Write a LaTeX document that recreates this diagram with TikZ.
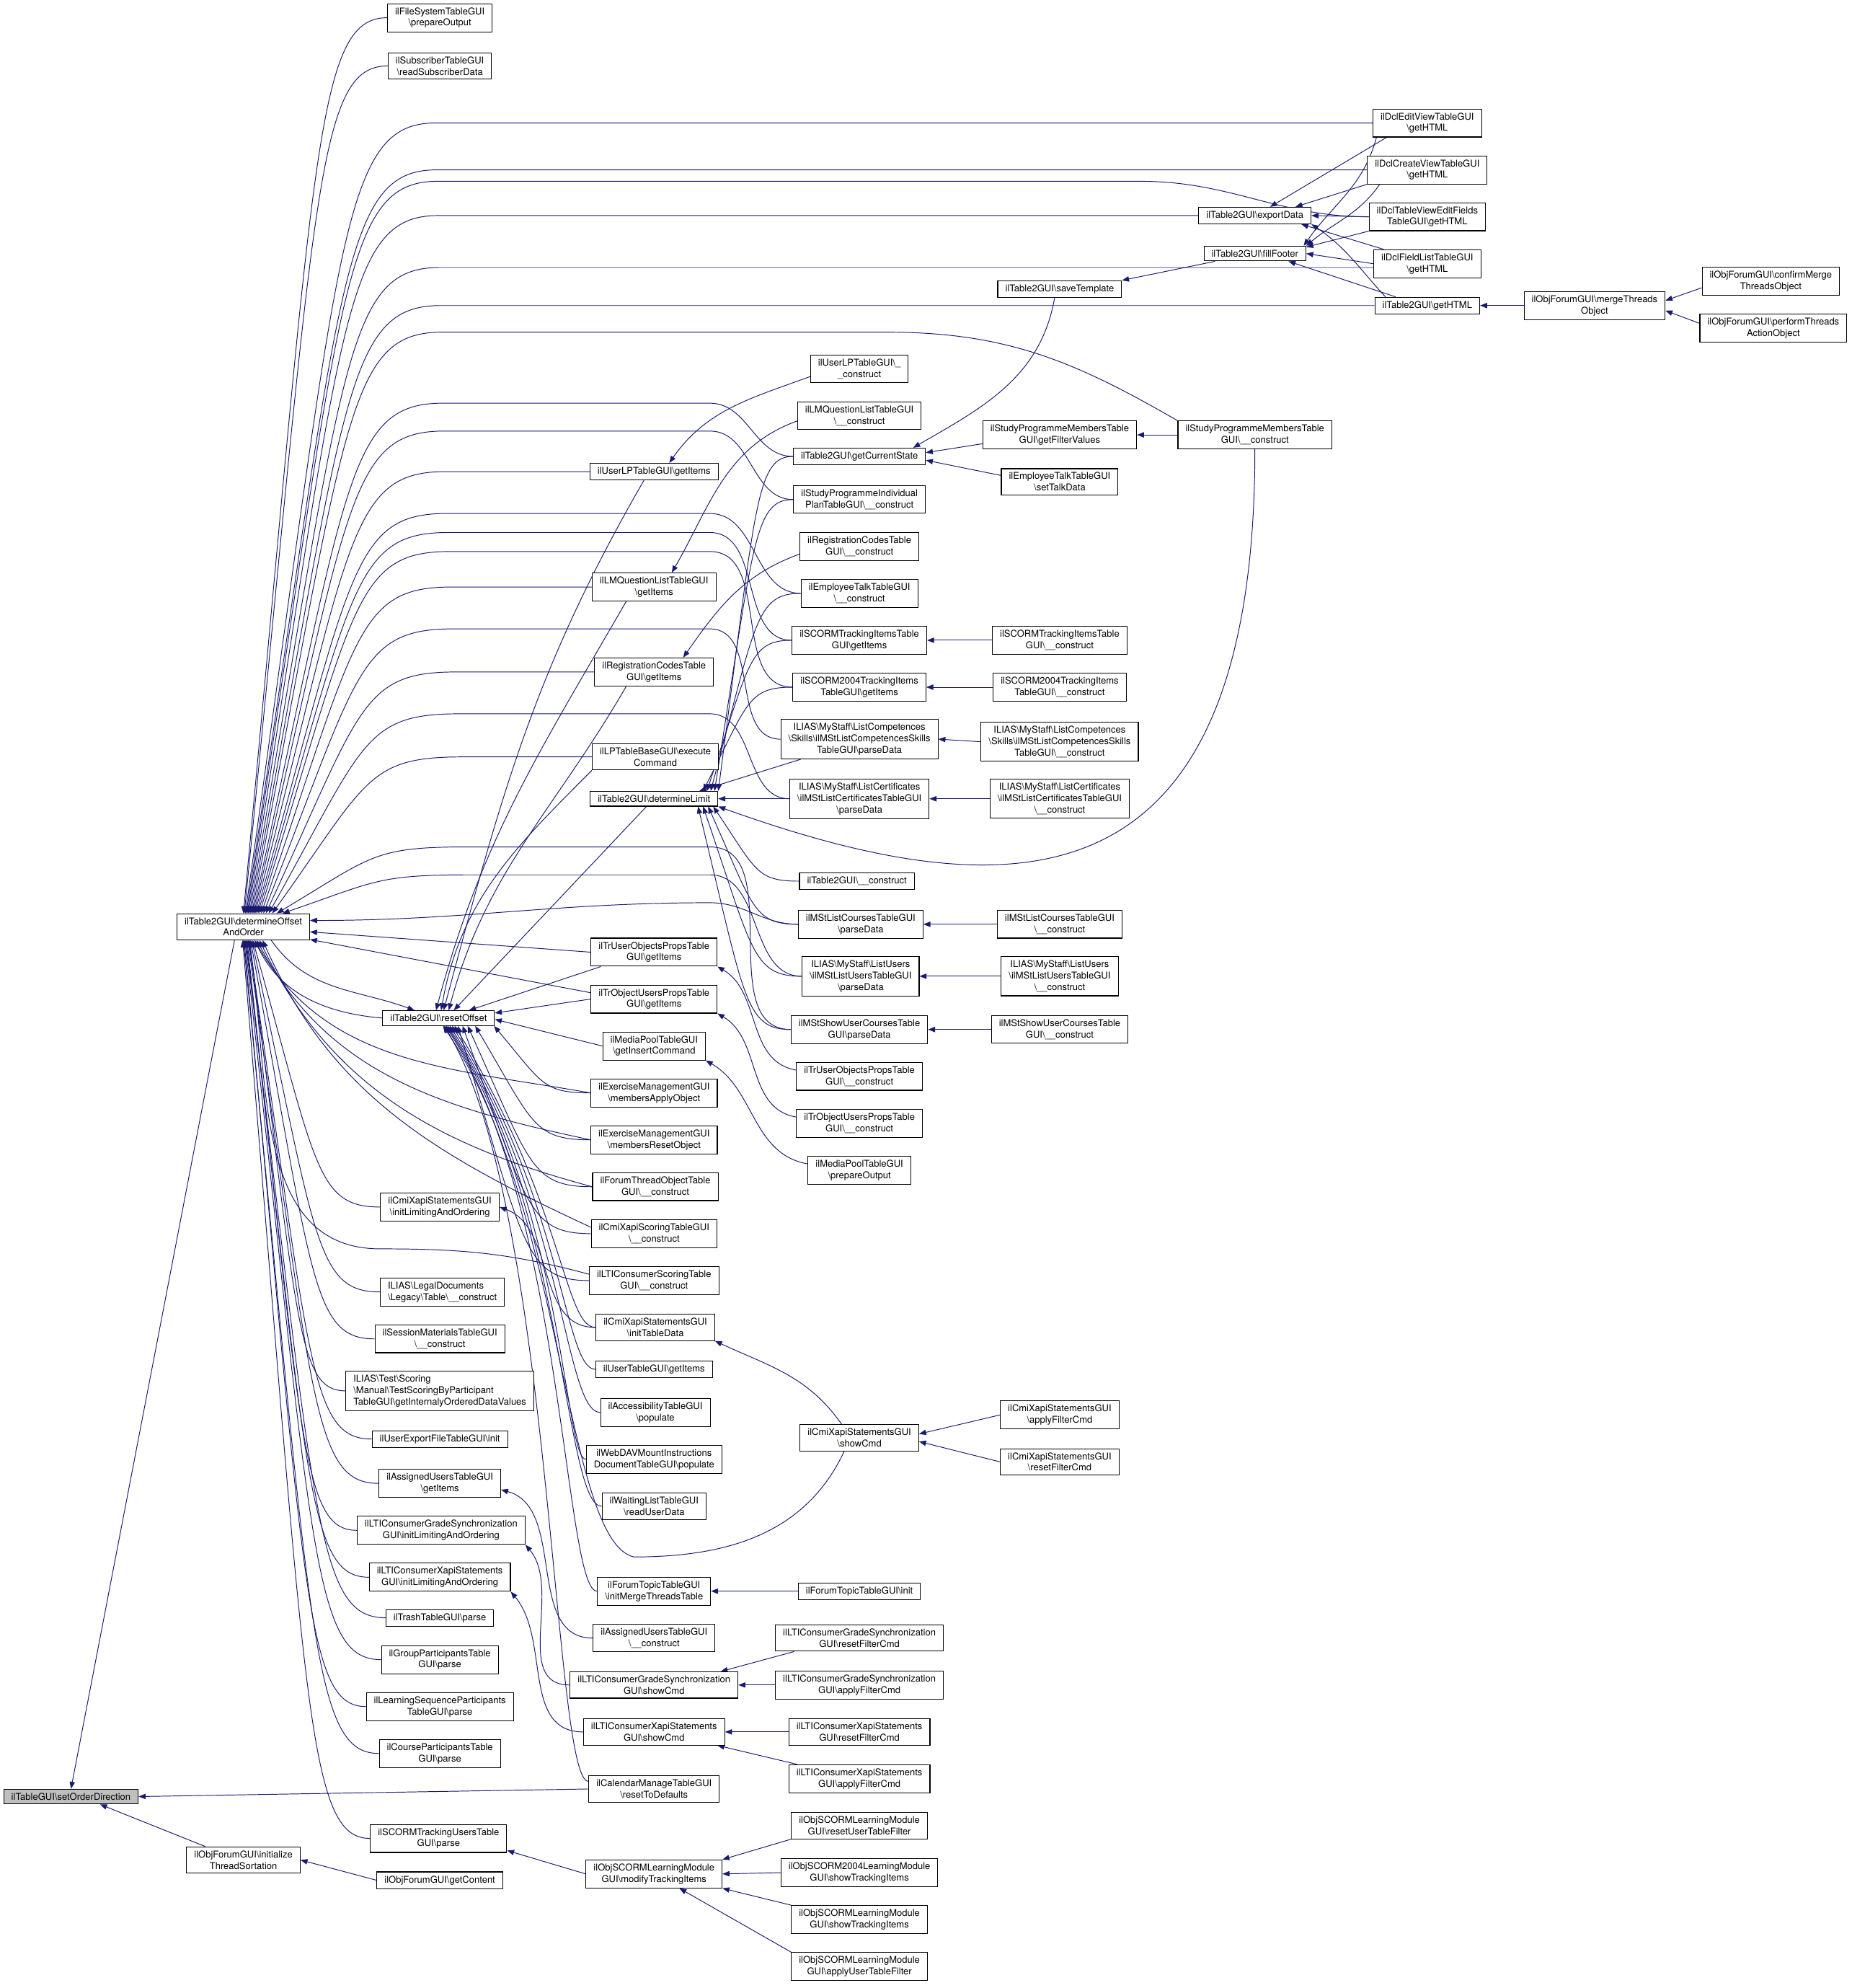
\documentclass[tikz,border=0pt]{standalone}
\usepackage{fontspec}
\setmainfont{TeX Gyre Heros}
\usetikzlibrary{arrows.meta, calc, backgrounds}
\definecolor{callBlue}{HTML}{191970}
\definecolor{rootGray}{HTML}{BFBFBF}
\newcommand{\bs}{\textbackslash}
\newcommand{\fnfont}{\fontsize{7.4}{9}\selectfont}

\begin{document}
\begin{tikzpicture}[x=1pt, y=1pt,
    fn/.style={rectangle, draw=black, line width=0.6pt, fill=white,
               align=center, inner xsep=6pt, inner ysep=3pt, font=\fnfont},
    fnl/.style={fn, align=left},
    root/.style={fn, fill=rootGray},
    call/.style={draw=callBlue, line width=0.55pt,
                 {Triangle[length=5.5pt, width=4.2pt]}-},
    fan/.style={to path={let \p1=(\tikztostart), \p2=(\tikztotarget),
                \n1={min(abs(\x2-\x1),150pt)} in
                .. controls ({\x1+0.5*\n1}, {\y1+0.85*(\y2-(\y1))})
                and ({\x1+0.5*\n1}, \y2) .. ({\x1+\n1}, \y2)
                -- (\tikztotarget)}},
    drop/.style={to path={let \p1=(\tikztostart), \p2=(\tikztotarget) in
                .. controls (#1, {\y1-140pt}) and (#1, \y2) .. (\tikztotarget)}},
    drop/.default=445pt,
  ]
    \useasboundingbox (0,0) rectangle (1461,-1568);

    % root and first callers
    \node[root] (sod) at (56,-1417) {ilTableGUI\bs setOrderDirection};
    \node[fn] (det) at (192,-731) {ilTable2GUI\bs determineOffset\\AndOrder};
    \node[fn] (its) at (192,-1467) {ilObjForumGUI\bs initialize\\ThreadSortation};

    % column 2
    \node[fn] (fso) at (347,-14) {ilFileSystemTableGUI\\\bs prepareOutput};
    \node[fn] (srd) at (347,-52) {ilSubscriberTableGUI\\\bs readSubscriberData};
    \node[fn] (ro) at (346,-803) {ilTable2GUI\bs resetOffset};
    \node[fn] (cxi) at (347,-952) {ilCmiXapiStatementsGUI\\\bs initLimitingAndOrdering};
    \node[fnl] (ldt) at (349,-1019) {ILIAS\bs LegalDocuments\\\bs Legacy\bs Table\bs\_\_construct};
    \node[fn] (smt) at (347,-1056) {ilSessionMaterialsTableGUI\\\bs\_\_construct};
    \node[fnl] (tsp) at (347,-1097) {ILIAS\bs Test\bs Scoring\\\bs Manual\bs TestScoringByParticipant\\TableGUI\bs getInternalyOrderedDataValues};
    \node[fn] (uef) at (347,-1135) {ilUserExportFileTableGUI\bs init};
    \node[fn] (aug) at (347,-1170) {ilAssignedUsersTableGUI\\\bs getItems};
    \node[fn] (lgi) at (348,-1207) {ilLTIConsumerGradeSynchronization\\GUI\bs initLimitingAndOrdering};
    \node[fn] (lxi) at (347,-1244) {ilLTIConsumerXapiStatements\\GUI\bs initLimitingAndOrdering};
    \node[fn] (trp) at (347,-1276) {ilTrashTableGUI\bs parse};
    \node[fn] (gpt) at (347,-1309) {ilGroupParticipantsTable\\GUI\bs parse};
    \node[fn] (lsp) at (347,-1346) {ilLearningSequenceParticipants\\TableGUI\bs parse};
    \node[fn] (cpt) at (347,-1383) {ilCourseParticipantsTable\\GUI\bs parse};
    \node[fn] (stu) at (346,-1450) {ilSCORMTrackingUsersTable\\GUI\bs parse};
    \node[fn] (gc) at (347,-1483) {ilObjForumGUI\bs getContent};

    % column 3
    \node[fn] (uli) at (516,-372) {ilUserLPTableGUI\bs getItems};
    \node[fn] (lqi) at (516,-463) {ilLMQuestionListTableGUI\\\bs getItems};
    \node[fn] (rci) at (516,-530) {ilRegistrationCodesTable\\GUI\bs getItems};
    \node[fn] (lec) at (517,-597) {ilLPTableBaseGUI\bs execute\\Command};
    \node[fn] (dl) at (516,-630) {ilTable2GUI\bs determineLimit};
    \node[fn] (tug) at (516,-751) {ilTrUserObjectsPropsTable\\GUI\bs getItems};
    \node[fn] (oug) at (516,-788) {ilTrObjectUsersPropsTable\\GUI\bs getItems};
    \node[fn] (mpi) at (516,-825) {ilMediaPoolTableGUI\\\bs getInsertCommand};
    \node[fn] (ema) at (516,-862) {ilExerciseManagementGUI\\\bs membersApplyObject};
    \node[fn] (emr) at (516,-899) {ilExerciseManagementGUI\\\bs membersResetObject};
    \node[fn] (fto) at (517,-936) {ilForumThreadObjectTable\\GUI\bs\_\_construct};
    \node[fn] (csg) at (516,-973) {ilCmiXapiScoringTableGUI\\\bs\_\_construct};
    \node[fn] (lcs) at (516,-1010) {ilLTIConsumerScoringTable\\GUI\bs\_\_construct};
    \node[fn] (ctd) at (517,-1047) {ilCmiXapiStatementsGUI\\\bs initTableData};
    \node[fn] (utg) at (516,-1080) {ilUserTableGUI\bs getItems};
    \node[fn] (acc) at (517,-1114) {ilAccessibilityTableGUI\\\bs populate};
    \node[fn] (wdv) at (516,-1151) {ilWebDAVMountInstructions\\DocumentTableGUI\bs populate};
    \node[fn] (wlr) at (516,-1188) {ilWaitingListTableGUI\\\bs readUserData};
    \node[fn] (ftm) at (516,-1255) {ilForumTopicTableGUI\\\bs initMergeThreadsTable};
    \node[fn] (auc) at (516,-1292) {ilAssignedUsersTableGUI\\\bs\_\_construct};
    \node[fn] (lgs) at (516,-1329) {ilLTIConsumerGradeSynchronization\\GUI\bs showCmd};
    \node[fn] (lxs) at (516,-1366) {ilLTIConsumerXapiStatements\\GUI\bs showCmd};
    \node[fn] (cal) at (516,-1411) {ilCalendarManageTableGUI\\\bs resetToDefaults};
    \node[fn] (mti) at (516,-1478) {ilObjSCORMLearningModule\\GUI\bs modifyTrackingItems};

    % column 4
    \node[fn] (ulc) at (678,-291) {ilUserLPTableGUI\bs\_\\\_construct};
    \node[fn] (lqc) at (678,-328) {ilLMQuestionListTableGUI\\\bs\_\_construct};
    \node[fn] (gcs) at (678,-360) {ilTable2GUI\bs getCurrentState};
    \node[fn] (spi) at (678,-394) {ilStudyProgrammeIndividual\\PlanTableGUI\bs\_\_construct};
    \node[fn] (rcc) at (678,-431) {ilRegistrationCodesTable\\GUI\bs\_\_construct};
    \node[fn] (etc) at (678,-468) {ilEmployeeTalkTableGUI\\\bs\_\_construct};
    \node[fn] (sti) at (678,-505) {ilSCORMTrackingItemsTable\\GUI\bs getItems};
    \node[fn] (s4i) at (678,-542) {ilSCORM2004TrackingItems\\TableGUI\bs getItems};
    \node[fn] (lcp) at (678,-583) {ILIAS\bs MyStaff\bs ListCompetences\\\bs Skills\bs ilMStListCompetencesSkills\\TableGUI\bs parseData};
    \node[fn] (lct) at (678,-630) {ILIAS\bs MyStaff\bs ListCertificates\\\bs ilMStListCertificatesTableGUI\\\bs parseData};
    \node[fn] (t2c) at (676,-695) {ilTable2GUI\bs\_\_construct};
    \node[fn] (mlc) at (679,-729) {ilMStListCoursesTableGUI\\\bs parseData};
    \node[fn] (mlu) at (679,-770) {ILIAS\bs MyStaff\bs ListUsers\\\bs ilMStListUsersTableGUI\\\bs parseData};
    \node[fn] (msu) at (678,-812) {ilMStShowUserCoursesTable\\GUI\bs parseData};
    \node[fn] (tuc) at (678,-849) {ilTrUserObjectsPropsTable\\GUI\bs\_\_construct};
    \node[fn] (ouc) at (678,-886) {ilTrObjectUsersPropsTable\\GUI\bs\_\_construct};
    \node[fn] (mpo) at (678,-923) {ilMediaPoolTableGUI\\\bs prepareOutput};
    \node[fn] (csc) at (678,-1134) {ilCmiXapiStatementsGUI\\\bs showCmd};
    \node[fn] (fti) at (678,-1255) {ilForumTopicTableGUI\bs init};
    \node[fn] (lgr) at (678,-1292) {ilLTIConsumerGradeSynchronization\\GUI\bs resetFilterCmd};
    \node[fn] (lga) at (678,-1329) {ilLTIConsumerGradeSynchronization\\GUI\bs applyFilterCmd};
    \node[fn] (lxr) at (678,-1366) {ilLTIConsumerXapiStatements\\GUI\bs resetFilterCmd};
    \node[fn] (lxa) at (678,-1403) {ilLTIConsumerXapiStatements\\GUI\bs applyFilterCmd};
    \node[fn] (srf) at (678,-1440) {ilObjSCORMLearningModule\\GUI\bs resetUserTableFilter};
    \node[fn] (s4t) at (678,-1477) {ilObjSCORM2004LearningModule\\GUI\bs showTrackingItems};
    \node[fn] (sst) at (678,-1514) {ilObjSCORMLearningModule\\GUI\bs showTrackingItems};
    \node[fn] (sau) at (678,-1551) {ilObjSCORMLearningModule\\GUI\bs applyUserTableFilter};

    % column 5
    \node[fn] (svt) at (836,-228) {ilTable2GUI\bs saveTemplate};
    \node[fn] (gfv) at (836,-343) {ilStudyProgrammeMembersTable\\GUI\bs getFilterValues};
    \node[fn] (std) at (836,-380) {ilEmployeeTalkTableGUI\\\bs setTalkData};
    \node[fn] (stc) at (836,-505) {ilSCORMTrackingItemsTable\\GUI\bs\_\_construct};
    \node[fn] (s4c) at (836,-542) {ilSCORM2004TrackingItems\\TableGUI\bs\_\_construct};
    \node[fn] (lcpc) at (836,-585) {ILIAS\bs MyStaff\bs ListCompetences\\\bs Skills\bs ilMStListCompetencesSkills\\TableGUI\bs\_\_construct};
    \node[fn] (lctc) at (836,-630) {ILIAS\bs MyStaff\bs ListCertificates\\\bs ilMStListCertificatesTableGUI\\\bs\_\_construct};
    \node[fn] (mlcc) at (836,-729) {ilMStListCoursesTableGUI\\\bs\_\_construct};
    \node[fn] (mluc) at (836,-770) {ILIAS\bs MyStaff\bs ListUsers\\\bs ilMStListUsersTableGUI\\\bs\_\_construct};
    \node[fn] (msuc) at (836,-812) {ilMStShowUserCoursesTable\\GUI\bs\_\_construct};
    \node[fn] (cxa) at (836,-1116) {ilCmiXapiStatementsGUI\\\bs applyFilterCmd};
    \node[fn] (cxr) at (836,-1153) {ilCmiXapiStatementsGUI\\\bs resetFilterCmd};

    % columns 6 to 9
    \node[fn] (exd) at (990,-170) {ilTable2GUI\bs exportData};
    \node[fn] (ffo) at (990,-200) {ilTable2GUI\bs fillFooter};
    \node[fn] (spm) at (990,-343) {ilStudyProgrammeMembersTable\\GUI\bs\_\_construct};
    \node[fn] (dev) at (1126,-97) {ilDclEditViewTableGUI\\\bs getHTML};
    \node[fn] (dcv) at (1126,-134) {ilDclCreateViewTableGUI\\\bs getHTML};
    \node[fn] (dtv) at (1126,-171) {ilDclTableViewEditFields\\TableGUI\bs getHTML};
    \node[fn] (dfl) at (1126,-208) {ilDclFieldListTableGUI\\\bs getHTML};
    \node[fn] (gh) at (1126,-241) {ilTable2GUI\bs getHTML};
    \node[fn] (mto) at (1258,-241) {ilObjForumGUI\bs mergeThreads\\Object};
    \node[fn] (cmt) at (1397,-222) {ilObjForumGUI\bs confirmMerge\\ThreadsObject};
    \node[fn] (pta) at (1399,-259) {ilObjForumGUI\bs performThreads\\ActionObject};

    % Arrows
    \begin{scope}[on background layer]
      \fill[white] (0,0) rectangle (1461,-1568);

      % setOrderDirection
      \draw[call] (sod.north) -- ([xshift=-7pt]det.south);
      \draw[call] (sod.-15) -- ([xshift=15pt]its.north west);
      \draw[call] (sod.east) -- (cal.west);
      \draw[call] (its.east) -- (gc.west);

      % determineOffsetAndOrder, callers above
      \draw[call] (det.90) to[fan] (fso.west);
      \draw[call] (det.86) to[fan] (srd.west);
      \draw[call] (det.82) to[fan] (dev.west);
      \draw[call] (det.78) to[fan] (dcv.west);
      \draw[call] (det.74) to[fan] (900,-143) to[out=0, in=180] (dtv.west);
      \draw[call] (det.70) to[fan] (exd.west);
      \draw[call] (det.66) to[fan] ([yshift=-3pt]dfl.west);
      \draw[call] (det.62) to[fan] (gh.west);
      \draw[call] (det.58) to[fan] (700,-262) to[out=0, in=150] (spm.north west);
      \draw[call] (det.55) to[fan] (560,-318) to[out=0, in=180] (gcs.west);
      \draw[call] (det.52) to[fan] (560,-340) to[out=0, in=180] (spi.west);
      \draw[call] (det.49) to[fan] (uli.west);
      \draw[call] (det.46) to[fan] (560,-405) to[out=0, in=180] (etc.west);
      \draw[call] (det.43) to[fan] (560,-420) to[out=0, in=180] (sti.west);
      \draw[call] (det.40) to[fan] (560,-435) to[out=0, in=180] (s4i.west);
      \draw[call] (det.37) to[fan] (lqi.west);
      \draw[call] (det.34) to[fan] (560,-496) to[out=0, in=180] (lcp.west);
      \draw[call] (det.31) to[fan] (rci.west);
      \draw[call] (det.28) to[fan] (560,-563) to[out=0, in=180] (lct.west);
      \draw[call] (det.25) to[fan] (lec.west);
      \draw[call] (det.22) to[fan] (560,-668) to[out=0, in=180] (msu.west);
      \draw[call] (det.19) to[fan] (560,-690) to[out=0, in=180] (mlu.west);
      \draw[call] ([yshift=5pt]det.east) to[out=0, in=180] (560,-712) to[out=0, in=180] (mlc.west);
      \draw[call] ([yshift=-4pt]det.east) -- (tug.west);
      \draw[call] ([yshift=-10pt]det.east) -- ([yshift=5pt]oug.west);

      % determineOffsetAndOrder, callers below
      \draw[call] (det.-50) to[out=-60, in=170] (ema.west);
      \draw[call] (det.-45) to[out=-62, in=168] (emr.west);
      \draw[call] (det.-40) to[out=-64, in=165] (fto.west);
      \draw[call] (det.-35) to[out=-66, in=155] ([yshift=5pt]csg.west);
      \draw[call] (det.-70) to[out=-80, in=180] (300,-985) to[out=0, in=165] ([yshift=5pt]lcs.west);
      \draw[call] (det.-55) to[fan] (cxi.west);
      \draw[call] (det.-58) to[fan] (ldt.west);
      \draw[call] (det.-62) to[fan] (smt.west);
      \draw[call] (det.-65) to[fan] (tsp.west);
      \draw[call] (det.-68) to[fan] (uef.west);
      \draw[call] (det.-72) to[fan] (aug.west);
      \draw[call] (det.-75) to[fan] (lgi.west);
      \draw[call] (det.-78) to[fan] (lxi.west);
      \draw[call] (det.-81) to[fan] (trp.west);
      \draw[call] (det.-84) to[fan] (gpt.west);
      \draw[call] (det.-87) to[fan] (lsp.west);
      \draw[call] (det.-90) to[fan] (cpt.west);
      \draw[call] (det.-93) to[fan] (stu.west);

      % resetOffset
      \draw[call] ([xshift=-19pt]ro.north) to[out=160, in=-55] ([xshift=22pt]det.south);
      \draw[call] ([xshift=9pt]det.south) to[out=-65, in=175] (ro.west);
      \draw[call] ([xshift=4pt]ro.north) to[out=75, in=240] ([xshift=-8pt]uli.south);
      \draw[call] ([xshift=-2pt]ro.north) to[out=75, in=240] ([xshift=-22pt]lqi.south);
      \draw[call] ([xshift=8pt]ro.north) to[out=75, in=240] ([xshift=-22pt]rci.south);
      \draw[call] ([xshift=2pt]ro.north) to[out=80, in=225] (lec.south west);
      \draw[call] ([xshift=12pt]ro.north) -- ([xshift=-6pt]dl.south);
      \draw[call] ([xshift=24pt]ro.north) -- ([xshift=8pt]tug.south west);
      \draw[call] ([yshift=4pt]ro.east) -- (oug.west);
      \draw[call] ([yshift=-1pt]ro.east) -- (mpi.west);
      \draw[call] (ro.-8) to[fan] (ema.west);
      \draw[call] (ro.-12) to[fan] (emr.west);
      \draw[call] (ro.-15) to[fan] (fto.west);
      \draw[call] (ro.-18) to[fan] (csg.west);
      \draw[call] (ro.-22) to[fan] (lcs.west);
      \draw[call] (ro.-26) to[drop] (ctd.west);
      \draw[call] (ro.-30) to[drop] (utg.west);
      \draw[call] (ro.-35) to[drop] (acc.west);
      \draw[call] (ro.-40) to[drop] (wdv.west);
      \draw[call] (ro.-45) to[drop] (wlr.west);
      \draw[call] (ro.-50) to[drop] (ftm.west);
      \draw[call] (ro.-55) to[drop=436pt] ([yshift=6pt]cal.west);
      \draw[call] (ro.-60) .. controls (445,-950) and (445,-1215) .. (500,-1228)
                  to[out=0, in=-115] ([xshift=-12pt]csc.south);

      % determineLimit
      \draw[call] (dl.north east) to[fan] (gcs.west);
      \draw[call] ([xshift=-3pt]dl.north east) to[fan] (spi.west);
      \draw[call] ([xshift=-6pt]dl.north east) to[fan] (etc.west);
      \draw[call] ([xshift=-9pt]dl.north east) to[fan] (sti.west);
      \draw[call] ([xshift=-12pt]dl.north east) to[fan] (s4i.west);
      \draw[call] ([xshift=-15pt]dl.north east) -- ([xshift=16pt]lcp.south west);
      \draw[call] (dl.east) -- (lct.west);
      \draw[call] ([xshift=-4pt]dl.south east) to[fan] (t2c.west);
      \draw[call] ([xshift=-8pt]dl.south east) to[fan] (mlc.west);
      \draw[call] ([xshift=-12pt]dl.south east) to[fan] (mlu.west);
      \draw[call] ([xshift=-16pt]dl.south east) to[fan] (msu.west);
      \draw[call] (dl.south east) .. controls (800,-720) and (990,-720) .. (spm.south);

      % getCurrentState, saveTemplate
      \draw[call] ([xshift=-10pt]gcs.north east) to[out=30, in=-100] ([xshift=-4pt]svt.south);
      \draw[call] ([yshift=3pt]gcs.east) -- ([yshift=-7pt]gfv.west);
      \draw[call] ([yshift=-3pt]gcs.east) -- ([yshift=5pt]std.west);
      \draw[call] (gfv.east) -- (spm.west);
      \draw[call] (svt.north east) -- ([xshift=9pt]ffo.south west);

      % exportData, fillFooter, getHTML
      \draw[call] ([xshift=12pt]exd.north) -- ([xshift=11pt]dev.south west);
      \draw[call] ([xshift=32pt]exd.north) -- (dcv.south west);
      \draw[call] (exd.east) -- (dtv.west);
      \draw[call] ([xshift=-8pt]exd.south east) -- ([xshift=8pt]dfl.north west);
      \draw[call] (exd.south east) .. controls (1062,-195) and (1075,-215) .. ([xshift=-33pt]gh.north);
      \draw[call] ([xshift=-2pt]ffo.north east) to[out=55, in=-105] ([xshift=3pt]dev.south west);
      \draw[call] (ffo.north east) to[out=40, in=-125] ([xshift=10pt]dcv.south west);
      \draw[call] ([yshift=-1pt]ffo.north east) -- (dtv.south west);
      \draw[call] (ffo.east) -- (dfl.west);
      \draw[call] ([xshift=-14pt]ffo.south east) -- ([xshift=-25pt]gh.north);
      \draw[call] (gh.east) -- (mto.west);
      \draw[call] ([yshift=4pt]mto.east) -- ([yshift=-5pt]cmt.west);
      \draw[call] ([yshift=-4pt]mto.east) -- ([yshift=4pt]pta.west);

      % constructors into getItems
      \draw[call] ([xshift=12pt]uli.north) to[out=55, in=200] ([yshift=-6pt]ulc.west);
      \draw[call] ([xshift=14pt]lqi.north) to[out=60, in=200] ([yshift=-4pt]lqc.west);
      \draw[call] ([xshift=23pt]rci.north) to[out=55, in=200] ([yshift=-6pt]rcc.west);
      \draw[call] (tug.south east) to[out=-30, in=170] ([yshift=5pt]tuc.west);
      \draw[call] (oug.south east) to[out=-30, in=170] ([yshift=5pt]ouc.west);
      \draw[call] (mpi.south east) to[out=-30, in=170] ([yshift=5pt]mpo.west);
      \draw[call] (sti.east) -- (stc.west);
      \draw[call] (s4i.east) -- (s4c.west);
      \draw[call] (lcp.east) -- (lcpc.west);
      \draw[call] (lct.east) -- (lctc.west);
      \draw[call] (mlc.east) -- (mlcc.west);
      \draw[call] (mlu.east) -- (mluc.west);
      \draw[call] (msu.east) -- (msuc.west);

      % lower part
      \draw[call] (cxi.east) to[out=-20, in=180] (ctd.west);
      \draw[call] (ctd.south east) to[out=-25, in=125] ([xshift=-14pt]csc.north);
      \draw[call] ([yshift=3pt]csc.east) -- (cxa.west);
      \draw[call] ([yshift=-3pt]csc.east) -- (cxr.west);
      \draw[call] (ftm.east) -- (fti.west);
      \draw[call] ([yshift=-5pt]aug.east) to[out=-15, in=180] (auc.west);
      \draw[call] (lgi.south east) to[out=-50, in=180] (lgs.west);
      \draw[call] (lxi.south east) to[out=-50, in=180] (lxs.west);
      \draw[call] ([xshift=-14pt]lgs.north east) -- ([xshift=15pt]lgr.south west);
      \draw[call] (lgs.east) -- (lga.west);
      \draw[call] (lxs.east) -- (lxr.west);
      \draw[call] ([xshift=-6pt]lxs.south east) -- ([xshift=7pt]lxa.north west);
      \draw[call] (stu.-10) -- (mti.west);
      \draw[call] (mti.north east) -- (srf.south west);
      \draw[call] (mti.east) -- (s4t.west);
      \draw[call] (mti.south east) -- (sst.north west);
      \draw[call] ([xshift=20pt]mti.south) -- (sau.north west);
    \end{scope}
  \end{tikzpicture}
\end{document}
